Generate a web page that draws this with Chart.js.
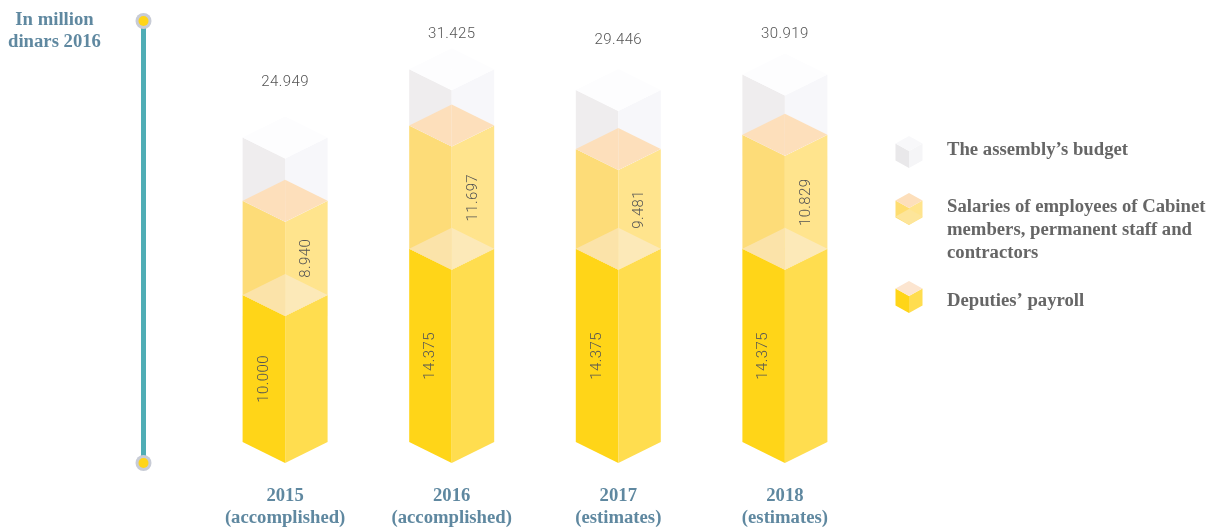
<!DOCTYPE html>
<html>
<head>
<meta charset="utf-8">
<style>html,body{margin:0;padding:0;background:#fff}#w{position:relative;width:1217px;height:529px}</style>
<script src="https://cdn.jsdelivr.net/npm/chart.js@4/dist/chart.umd.min.js"></script>
</head>
<body>
<div id="w"><canvas id="c" width="1217" height="529"></canvas></div>
<script>
const categories = [['2015','(accomplished)'],['2016','(accomplished)'],['2017','(estimates)'],['2018','(estimates)']];
const deputiesPayroll = [10000, 14375, 14375, 14375];
const salaries = [8940, 11697, 9481, 10829];
const assemblyBudget = [6009, 5353, 5590, 5715];
const totals = [24949, 31425, 29446, 30919];
const axisTitle = ['In million','dinars 2016'];
const legendItems = [
  ["The assembly’s budget"],
  ['Salaries of employees of Cabinet','members, permanent staff and','contractors'],
  ['Deputies’ payroll']
];
const fmt = v => String(v).replace(/(\d)(\d{3})$/, '$1.$2');

const DEPTH = 21;
const SERIF = '"Liberation Serif", serif';
const LABEL = '300 15px Roboto, sans-serif';
const layerStyle = [
  {left:'#FFD518', right:'#FFDD4F', topL:'#FBE3A9', topR:'#FCE9B8'},
  {left:'#FDDC78', right:'#FFE48D', topL:'#FDDFBB', topR:'#FDDFBB'},
  {left:'#EFEDEE', right:'#F7F7FA', topL:'#FDFDFE', topR:'#FDFDFE'}
];
const totalLift = [34, 14, 29, 19];

function poly(ctx, pts, color){
  ctx.fillStyle = color;
  ctx.beginPath();
  pts.forEach((p,i)=> i ? ctx.lineTo(p[0],p[1]) : ctx.moveTo(p[0],p[1]));
  ctx.closePath();
  ctx.fill();
}
function cube(ctx, cx, cy, hw, d, h, s){
  const top = cy - h/2 - d, front = top + 2*d;
  poly(ctx,[[cx-hw,top+d],[cx,front],[cx,front+h],[cx-hw,top+d+h]],s.left);
  poly(ctx,[[cx+hw,top+d],[cx,front],[cx,front+h],[cx+hw,top+d+h]],s.right);
  poly(ctx,[[cx,top],[cx-hw,top+d],[cx,front],[cx+hw,top+d]],s.top);
}
function rotated(ctx, text, x, y){
  ctx.save();
  ctx.translate(x,y);
  ctx.rotate(-Math.PI/2);
  ctx.fillText(text,0,0);
  ctx.restore();
}

const isoPlugin = {
  id:'iso',
  afterDatasetsDraw(chart){
    const ctx = chart.ctx, area = chart.chartArea;
    const metas = [0,1,2].map(i=>chart.getDatasetMeta(i));
    ctx.save();
    // vertical scale rule with end markers
    const ax = area.left - 58.3;
    ctx.strokeStyle = '#4FADB5'; ctx.lineWidth = 5;
    ctx.beginPath(); ctx.moveTo(ax,area.top); ctx.lineTo(ax,area.bottom); ctx.stroke();
    [area.top,area.bottom].forEach(y=>{
      ctx.fillStyle='#C8CCD6'; ctx.beginPath(); ctx.arc(ax,y,8,0,7); ctx.fill();
      ctx.fillStyle='#FFD518'; ctx.beginPath(); ctx.arc(ax,y,5,0,7); ctx.fill();
    });
    categories.forEach((_,j)=>{
      const tops = metas.map(m=>m.data[j].y);
      const cx = metas[0].data[j].x, hw = metas[0].data[j].width/2;
      const bots = [area.bottom, tops[0], tops[1]];
      layerStyle.forEach((s,i)=>{
        const t=tops[i], b=bots[i];
        poly(ctx,[[cx-hw,t-DEPTH],[cx,t],[cx,b],[cx-hw,b-DEPTH]],s.left);
        poly(ctx,[[cx+hw,t-DEPTH],[cx,t],[cx,b],[cx+hw,b-DEPTH]],s.right);
      });
      layerStyle.forEach((s,i)=>{
        const t=tops[i];
        poly(ctx,[[cx,t-2*DEPTH],[cx-hw,t-DEPTH],[cx,t]],s.topL);
        poly(ctx,[[cx,t-2*DEPTH],[cx+hw,t-DEPTH],[cx,t]],s.topR);
      });
      ctx.fillStyle='#555'; ctx.font=LABEL; ctx.textAlign='center'; ctx.textBaseline='middle';
      ctx.letterSpacing='0.4px';
      rotated(ctx, fmt(deputiesPayroll[j]), cx-hw/2, (tops[0]+bots[0])/2-DEPTH/2);
      rotated(ctx, fmt(salaries[j]), cx+hw/2, (tops[1]+bots[1])/2-DEPTH/2);
      ctx.fillText(fmt(totals[j]), cx, tops[2]-2*DEPTH-totalLift[j]);
      ctx.letterSpacing='0px';
    });
    // axis caption
    ctx.fillStyle='#5F88A0'; ctx.font='bold 18.7px '+SERIF; ctx.textAlign='center';
    axisTitle.forEach((t,i)=>ctx.fillText(t,54.5,20+22*i));
    // legend
    const ys=[152,209,297];
    const cubes=[
      {left:'#E9E8EA',right:'#F5F5F7',top:'#F8F8FA'},
      {left:'#FEDD70',right:'#FFE48D',top:'#FDDFBB'},
      {left:'#FFD518',right:'#FFDD4F',top:'#FCE5D0'}
    ];
    cubes.forEach((c,i)=>cube(ctx,909,ys[i],13.5,7.5,17,c));
    // lower band of the middle swatch
    poly(ctx,[[909,ys[1]],[895.5,ys[1]+7.5],[909,ys[1]+16],[922.5,ys[1]+7.5]],'#FDE59A');
    ctx.fillStyle='#666'; ctx.font='bold 18.7px '+SERIF; ctx.textAlign='left';
    const lineYs=[[150],[207,230,253],[301]];
    legendItems.forEach((lines,i)=>lines.forEach((t,k)=>ctx.fillText(t,947,lineYs[i][k])));
    ctx.restore();
  }
};

new Chart(document.getElementById('c'),{
  type:'bar',
  plugins:[isoPlugin],
  data:{
    labels:categories,
    datasets:[
      {label:'Deputies’ payroll',data:deputiesPayroll,backgroundColor:'transparent',barThickness:85},
      {label:'Salaries of employees of Cabinet members, permanent staff and contractors',data:salaries,backgroundColor:'transparent',barThickness:85},
      {label:'The assembly’s budget',data:assemblyBudget,backgroundColor:'transparent',barThickness:85}
    ]
  },
  options:{
    responsive:false,
    animation:false,
    events:[],
    layout:{padding:{left:201.8,right:348.8,top:21,bottom:0}},
    plugins:{legend:{display:false},tooltip:{enabled:false}},
    scales:{
      x:{
        stacked:true,
        grid:{display:false},
        border:{display:false},
        afterFit(s){s.height=66;},
        ticks:{color:'#5F88A0',padding:14,maxRotation:0,autoSkip:false,font:{family:SERIF,weight:'bold',size:18.7,lineHeight:1.18}}
      },
      y:{
        stacked:true,
        display:false,
        min:-3970,
        max:38000
      }
    }
  }
});
</script>
</body>
</html>
